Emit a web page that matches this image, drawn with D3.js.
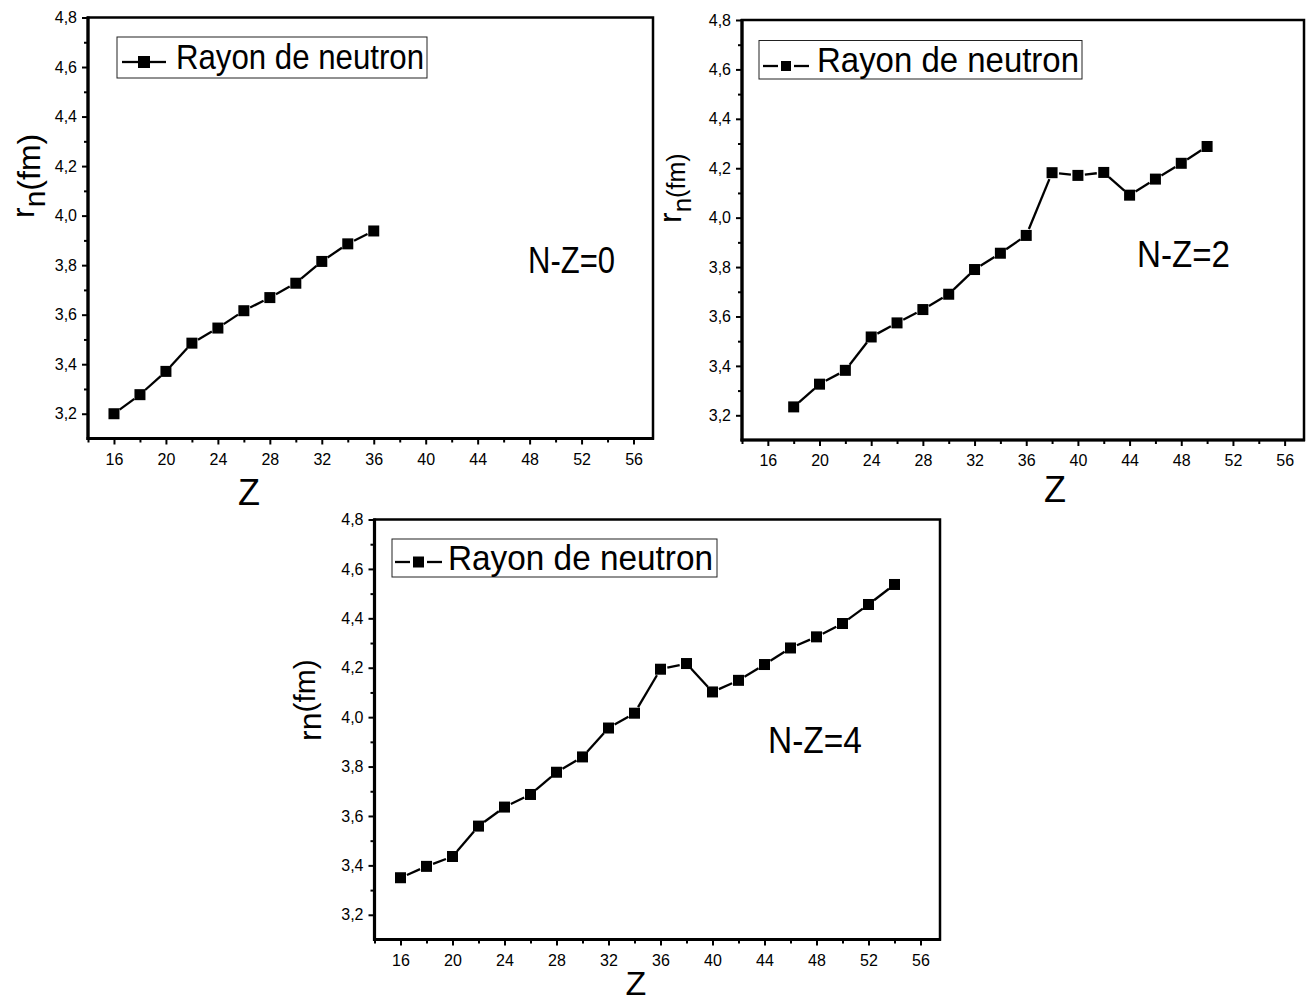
<!DOCTYPE html>
<html>
<head>
<meta charset="utf-8">
<script src="https://cdn.jsdelivr.net/npm/d3@7"></script>
<style>
body { margin: 0; background: #fff; }
svg { font-family: "Liberation Sans", Arial, sans-serif; }
</style>
</head>
<body>
<div id="chart"></div>
<script>
//----------------- data -----------------
const z_nz0 = [16, 18, 20, 22, 24, 26, 28, 30, 32, 34, 36];
const rn_nz0 = [3.200, 3.277, 3.371, 3.485, 3.546, 3.616, 3.669, 3.727, 3.815, 3.886, 3.938];

const z_nz2 = [18, 20, 22, 24, 26, 28, 30, 32, 34, 36, 38, 40, 42, 44, 46, 48, 50];
const rn_nz2 = [3.234, 3.326, 3.382, 3.517, 3.574, 3.628, 3.690, 3.790, 3.856, 3.928,
    4.182, 4.171, 4.183, 4.091, 4.156, 4.220, 4.288];

const z_nz4 = [16, 18, 20, 22, 24, 26, 28, 30, 32, 34, 36, 38, 40, 42, 44, 46, 48, 50, 52, 54];
const rn_nz4 = [3.350, 3.396, 3.436, 3.559, 3.636, 3.687, 3.777, 3.839, 3.956, 4.016,
    4.194, 4.217, 4.102, 4.149, 4.213, 4.280, 4.325, 4.379, 4.456, 4.537];

//axis ticks
const zTicks = [16, 20, 24, 28, 32, 36, 40, 44, 48, 52, 56];
const zMinorTicks = [14, 18, 22, 26, 30, 34, 38, 42, 46, 50, 54];
const rnTicks = [3.2, 3.4, 3.6, 3.8, 4.0, 4.2, 4.4, 4.6, 4.8];
const rnMinorTicks = [3.3, 3.5, 3.7, 3.9, 4.1, 4.3, 4.5, 4.7];
const zDomain = [14, 57.5];
const rnDomain = [3.1, 4.8];

const legendText = "Rayon de neutron";
const panelLabels = ["N-Z=0", "N-Z=2", "N-Z=4"];

//----------------- layout of the three panels -----------------
const panels = [
    {
        z: z_nz0, rn: rn_nz0, label: panelLabels[0],
        left: 88, right: 653, top: 17.5, bottom: 438.5,
        legend: { x0: 117, x1: 427, y0: 37, y1: 78, lineX0: 122, lineX1: 166, lineY: 62, mark: 12, textX: 176, textY: 69, textLen: 248, gap: 0 },
        note: { x: 528, y: 273, len: 87 },
        zLab: { x: 249, y: 505 },
        yLab: { x: 34, y: 218, rSize: 32, nSize: 30, nShift: 11, fmShift: 6, fmSize: 32 }
    },
    {
        z: z_nz2, rn: rn_nz2, label: panelLabels[1],
        left: 742, right: 1304, top: 20, bottom: 440,
        legend: { x0: 759, x1: 1082, y0: 40.5, y1: 79, lineX0: 763, lineX1: 809, lineY: 66, mark: 10, textX: 817, textY: 72, textLen: 262, gap: 3 },
        note: { x: 1137, y: 267, len: 93 },
        zLab: { x: 1055, y: 502 },
        yLab: { x: 681, y: 223, rSize: 32, nSize: 26, nShift: 10, fmShift: 4, fmSize: 25 }
    },
    {
        z: z_nz4, rn: rn_nz4, label: panelLabels[2],
        left: 374.5, right: 940, top: 519.5, bottom: 939.5,
        legend: { x0: 392, x1: 717, y0: 539, y1: 577, lineX0: 395, lineX1: 442, lineY: 562, mark: 11, textX: 448, textY: 570, textLen: 265, gap: 3 },
        note: { x: 768, y: 753, len: 94 },
        zLab: { x: 636, y: 995, size: 34 },
        yLab: { x: 321, y: 741, rSize: 32, nSize: 32, nShift: 0, fmShift: -6, fmSize: 30 }
    }
];

const svg = d3.select("#chart")
    .append("svg")
    .attr("width", 1313)
    .attr("height", 1003);

//decimal comma like the original
const fr = d3.formatLocale({ decimal: ",", thousands: ".", grouping: [3], currency: ["", ""] });
const fmt1 = fr.format(".1f");

function styleAxis(g) {
    g.select(".domain").remove();
    g.selectAll(".tick line").attr("stroke", "#000").attr("stroke-width", 2);
    g.selectAll(".tick text")
        .attr("fill", "#000")
        .style("font-size", "16px")
        .style("font-family", "'Liberation Sans', Arial, sans-serif");
}

function drawPanel(p) {
    const x = d3.scaleLinear().domain(zDomain).range([p.left, p.right]);
    const y = d3.scaleLinear().domain(rnDomain).range([p.bottom, p.top]);
    const g = svg.append("g");

    //frame
    g.append("rect")
        .attr("x", p.left).attr("y", p.top)
        .attr("width", p.right - p.left).attr("height", p.bottom - p.top)
        .attr("fill", "none").attr("stroke", "#000").attr("stroke-width", 2.5);

    //x axis: minor then major
    g.append("g")
        .attr("transform", `translate(0,${p.bottom})`)
        .call(d3.axisBottom(x).tickValues(zMinorTicks).tickSize(4).tickFormat(""))
        .call(styleAxis);
    g.append("g")
        .attr("transform", `translate(0,${p.bottom})`)
        .call(d3.axisBottom(x).tickValues(zTicks).tickSize(6).tickPadding(9).tickSizeOuter(0))
        .call(styleAxis);

    //y axis
    g.append("g")
        .attr("transform", `translate(${p.left},0)`)
        .call(d3.axisLeft(y).tickValues(rnMinorTicks).tickSize(4).tickFormat(""))
        .call(styleAxis);
    g.append("g")
        .attr("transform", `translate(${p.left},0)`)
        .call(d3.axisLeft(y).tickValues(rnTicks).tickSize(6).tickPadding(5).tickFormat(fmt1).tickSizeOuter(0))
        .call(styleAxis);

    //thicker left and bottom axis lines
    g.append("line")
        .attr("x1", p.left).attr("x2", p.left).attr("y1", p.top - 1).attr("y2", p.bottom + 1.5)
        .attr("stroke", "#000").attr("stroke-width", 3.2);
    g.append("line")
        .attr("x1", p.left - 1.5).attr("x2", p.right + 1).attr("y1", p.bottom).attr("y2", p.bottom)
        .attr("stroke", "#000").attr("stroke-width", 3.2);

    //data line, with small gaps at the markers
    const pts = p.z.map((d, i) => [x(d), y(p.rn[i])]);
    const gap = 7;
    g.append("g")
        .selectAll("line")
        .data(d3.pairs(pts))
        .join("line")
        .each(function ([a, b]) {
            const dx = b[0] - a[0], dy = b[1] - a[1];
            const len = Math.hypot(dx, dy);
            const ux = dx / len, uy = dy / len;
            d3.select(this)
                .attr("x1", a[0] + ux * gap).attr("y1", a[1] + uy * gap)
                .attr("x2", b[0] - ux * gap).attr("y2", b[1] - uy * gap);
        })
        .attr("stroke", "#000")
        .attr("stroke-width", 2.3);

    //markers
    const m = 11;
    g.append("g")
        .selectAll("rect")
        .data(pts)
        .join("rect")
        .attr("x", d => d[0] - m / 2)
        .attr("y", d => d[1] - m / 2)
        .attr("width", m)
        .attr("height", m)
        .attr("fill", "#000");

    //legend
    const L = p.legend;
    g.append("rect")
        .attr("x", L.x0).attr("y", L.y0)
        .attr("width", L.x1 - L.x0).attr("height", L.y1 - L.y0)
        .attr("fill", "#fff").attr("stroke", "#222").attr("stroke-width", 1);
    const mid = (L.lineX0 + L.lineX1) / 2;
    g.append("line")
        .attr("x1", L.lineX0).attr("x2", mid - L.mark / 2 - L.gap)
        .attr("y1", L.lineY).attr("y2", L.lineY)
        .attr("stroke", "#000").attr("stroke-width", 2.3);
    g.append("line")
        .attr("x1", mid + L.mark / 2 + L.gap).attr("x2", L.lineX1)
        .attr("y1", L.lineY).attr("y2", L.lineY)
        .attr("stroke", "#000").attr("stroke-width", 2.3);
    g.append("rect")
        .attr("x", mid - L.mark / 2).attr("y", L.lineY - L.mark / 2)
        .attr("width", L.mark).attr("height", L.mark)
        .attr("fill", "#000");
    g.append("text")
        .attr("x", L.textX).attr("y", L.textY)
        .attr("textLength", L.textLen)
        .attr("lengthAdjust", "spacingAndGlyphs")
        .style("font-size", "35px")
        .text(legendText);

    //N-Z annotation
    g.append("text")
        .attr("x", p.note.x).attr("y", p.note.y)
        .attr("textLength", p.note.len)
        .attr("lengthAdjust", "spacingAndGlyphs")
        .style("font-size", "37px")
        .text(p.label);

    //x title
    g.append("text")
        .attr("x", p.zLab.x).attr("y", p.zLab.y)
        .attr("text-anchor", "middle")
        .style("font-size", (p.zLab.size || 36) + "px")
        .text("Z");

    //y title r_n(fm)
    const Y = p.yLab;
    const t = g.append("text")
        .attr("transform", `translate(${Y.x},${Y.y}) rotate(-90)`)
        .style("font-size", Y.rSize + "px");
    t.append("tspan").text("r");
    t.append("tspan").attr("dy", Y.nShift).style("font-size", Y.nSize + "px").text("n");
    t.append("tspan").attr("dy", Y.fmShift - Y.nShift).style("font-size", Y.fmSize + "px").text("(fm)");
}

panels.forEach(drawPanel);
</script>
</body>
</html>
